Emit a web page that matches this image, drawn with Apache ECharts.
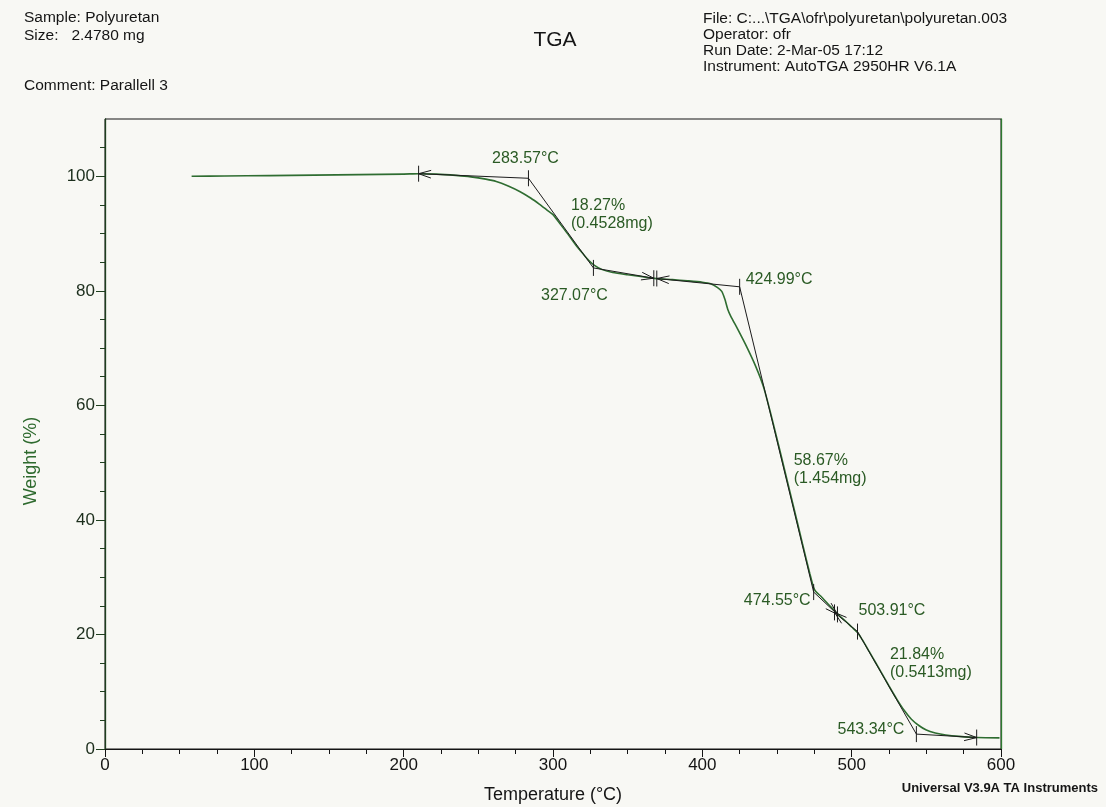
<!DOCTYPE html>
<html>
<head>
<meta charset="utf-8">
<title>TGA – Polyuretan</title>
<script src="https://cdn.jsdelivr.net/npm/echarts@6/dist/echarts.min.js"></script>
<style>
  html, body { margin: 0; padding: 0; background: #f8f8f4; }
  #main { width: 1106px; height: 807px; }
</style>
</head>
<body>
<div id="main"></div>
<script>
// Thermogravimetric curve: sample temperature (°C) and remaining weight (%)
const temperatureC = [
  58, 80, 110, 140, 170, 200, 210, 222, 235, 245, 255, 262, 270, 278, 285, 291, 296, 300,
  305, 310, 315, 320, 324, 328, 333, 340, 350, 360, 368, 380, 390, 400, 406, 410, 413, 415,
  417, 419, 423.5, 429, 435.6, 441, 447.7, 453.8, 461, 467, 472, 474.5, 476, 480, 485, 489,
  492, 496, 500, 504, 508, 512, 516, 520, 525, 530, 535, 540, 545, 550, 556, 563, 572, 584, 599
];
const weightPct = [
  100.0, 100.05, 100.12, 100.2, 100.28, 100.38, 100.45, 100.38, 100.15, 99.9, 99.5, 99.1, 98.3, 97.3, 96.2, 95.1, 94.1, 93.3,
  91.6, 89.9, 88.1, 86.5, 85.3, 84.4, 83.7, 83.2, 82.8, 82.45, 82.18, 81.95, 81.75, 81.5, 81.2, 80.6, 79.9, 78.6,
  76.8, 75.6, 73.4, 70.6, 66.9, 63.2, 56.6, 50.1, 42.4, 35.9, 30.6, 28.2, 27.5, 26.5, 25.1, 24.0,
  23.2, 22.3, 21.3, 20.3, 18.7, 16.9, 15.1, 13.3, 11.0, 8.8, 6.8, 5.2, 4.1, 3.3, 2.8, 2.45, 2.2, 2.0, 1.95
];

// Step analysis: limits, extrapolated onset / endset and weight change per step
const stepLeftT   = [210, 369.5, 488.5];
const stepLeftW   = [100.45, 82.15, 23.85];
const stepOnsetT  = [283.57, 424.99, 503.91];
const stepOnsetW  = [99.65, 80.7, 20.5];
const stepEndT    = [327.07, 474.55, 543.34];
const stepEndW    = [84.0, 27.4, 2.6];
const stepRightT  = [367.5, 490.5, 583.7];
const stepRightW  = [82.2, 23.5, 2.0];
const stepLossPct = [18.27, 58.67, 21.84];
const stepLossMg  = [0.4528, 1.454, 0.5413];

// Axis tick labels
const xTickLabels = [0, 100, 200, 300, 400, 500, 600];
const yTickLabels = [0, 20, 40, 60, 80, 100];
const yMinorTicks = [];
for (let v = 5; v <= 105; v += 5) if (v % 20 !== 0) yMinorTicks.push(v);

// Placement of the step annotations relative to their anchor points (pixels)
const labelLayout = [
  { onset: [-3, -20, 'center'], end: [-19, 28, 'center'], loss: [10, -8] },
  { onset: [6, -7, 'left'],     end: [-3, 9, 'right'],    loss: [17, 30] },
  { onset: [1, -21, 'left'],    end: [-12, -5, 'right'],  loss: [3, -19] }
];

const FONT = '"Liberation Sans", Arial, Helvetica, sans-serif';
const INK = '#1c1c1c';
const CURVE = '#2f6d31';
const NOTE = '#2a5a24';

const chart = echarts.init(document.getElementById('main'), null, { renderer: 'canvas' });

function renderStep(params, api) {
  const i = params.dataIndex;
  const P = (t, w) => api.coord([t, w]);
  const L = P(stepLeftT[i], stepLeftW[i]);
  const O = P(stepOnsetT[i], stepOnsetW[i]);
  const E = P(stepEndT[i], stepEndW[i]);
  const R = P(stepRightT[i], stepRightW[i]);
  const ink = { stroke: INK, lineWidth: 1, fill: null };
  const seg = (a, b) => ({ type: 'line', shape: { x1: a[0], y1: a[1], x2: b[0], y2: b[1] }, style: ink });
  const tick = (p, h) => seg([p[0], p[1] - h], [p[0], p[1] + h]);
  const arrow = (from, tip) => {
    const ang = Math.atan2(tip[1] - from[1], tip[0] - from[0]);
    const len = 13, spread = 0.3;
    return {
      type: 'polyline',
      shape: { points: [
        [tip[0] - len * Math.cos(ang - spread), tip[1] - len * Math.sin(ang - spread)],
        [tip[0], tip[1]],
        [tip[0] - len * Math.cos(ang + spread), tip[1] - len * Math.sin(ang + spread)]
      ] },
      style: ink
    };
  };
  const lay = labelLayout[i];
  const txt = (x, y, text, align) => ({
    type: 'text', x: x, y: y,
    style: { text: text, fill: NOTE, fontSize: 16, fontFamily: FONT, align: align, verticalAlign: 'middle', lineHeight: 18 }
  });
  const mid = [(O[0] + E[0]) / 2, (O[1] + E[1]) / 2];
  return {
    type: 'group',
    children: [
      seg(L, O), seg(O, E), seg(E, R),
      tick(L, 8), tick(O, 8), tick(E, 8), tick(R, 8),
      arrow(O, L), arrow(E, R),
      txt(O[0] + lay.onset[0], O[1] + lay.onset[1], stepOnsetT[i].toFixed(2) + '°C', lay.onset[2]),
      txt(E[0] + lay.end[0], E[1] + lay.end[1], stepEndT[i].toFixed(2) + '°C', lay.end[2]),
      txt(mid[0] + lay.loss[0], mid[1] + lay.loss[1],
          stepLossPct[i].toFixed(2) + '%\n(' + stepLossMg[i].toPrecision(4) + 'mg)', 'left')
    ]
  };
}

const headerText = (x, y, text, extra) => ({
  type: 'text', x: x, y: y,
  style: Object.assign({ text: text, fill: '#151515', fontSize: 15.5, fontFamily: FONT, verticalAlign: 'middle' }, extra || {})
});

const option = {
  backgroundColor: '#f8f8f4',
  animation: false,
  grid: { left: 105, right: 105, top: 119, bottom: 58, show: true, borderColor: '#141414', borderWidth: 1, backgroundColor: 'transparent' },
  xAxis: {
    type: 'value', min: 0, max: 600, interval: 100,
    axisLine: { show: true, lineStyle: { color: '#141414', width: 1.2 } },
    axisTick: { show: true, inside: false, length: 8, lineStyle: { color: '#141414' } },
    minorTick: { show: true, splitNumber: 4, length: 5, lineStyle: { color: '#141414' } },
    splitLine: { show: false },
    axisLabel: { show: true, customValues: xTickLabels, color: '#141414', fontSize: 17, fontFamily: FONT, margin: 8 }
  },
  yAxis: [
    {
      type: 'value', min: 0, max: 110, position: 'left',
      axisLine: { show: true, lineStyle: { color: '#1f3f1f', width: 1.3 } },
      axisTick: { show: true, inside: false, length: 9, customValues: yTickLabels, lineStyle: { color: '#1f3f1f' } },
      splitLine: { show: false },
      axisLabel: { show: true, customValues: yTickLabels, color: '#1c2e1c', fontSize: 17, fontFamily: FONT, margin: 10 }
    },
    {
      type: 'value', min: 0, max: 110, position: 'left',
      axisLine: { show: false },
      axisTick: { show: true, inside: false, length: 5, customValues: yMinorTicks, lineStyle: { color: '#1f3f1f' } },
      splitLine: { show: false },
      axisLabel: { show: false }
    },
    {
      type: 'value', min: 0, max: 110, position: 'right',
      axisLine: { show: true, lineStyle: { color: '#2e7a30', width: 1.3 } },
      axisTick: { show: false }, splitLine: { show: false }, axisLabel: { show: false }
    }
  ],
  graphic: [
    headerText(24, 18, 'Sample: Polyuretan'),
    headerText(24, 36, 'Size:   2.4780 mg'),
    headerText(24, 86, 'Comment: Parallell 3'),
    headerText(555, 40, 'TGA', { fontSize: 21, align: 'center' }),
    headerText(703, 19, 'File: C:...\\TGA\\ofr\\polyuretan\\polyuretan.003'),
    headerText(703, 35, 'Operator: ofr'),
    headerText(703, 51, 'Run Date: 2-Mar-05 17:12'),
    headerText(703, 67, 'Instrument: AutoTGA 2950HR V6.1A'),
    headerText(1098, 788, 'Universal V3.9A TA Instruments',
      { fontSize: 13, fontWeight: 'bold', align: 'right', fontFamily: '"Liberation Sans Narrow", "Liberation Sans", Arial, sans-serif' }),
    headerText(553, 795, 'Temperature (°C)', { fontSize: 18, align: 'center' }),
    {
      type: 'text', x: 31, y: 461, rotation: Math.PI / 2,
      style: { text: 'Weight (%)', fill: '#2e6a2e', fontSize: 18, fontFamily: FONT, align: 'center', verticalAlign: 'middle' }
    }
  ],
  series: [
    {
      name: 'Weight',
      type: 'line',
      xAxisIndex: 0, yAxisIndex: 0,
      data: temperatureC.map((t, i) => [t, weightPct[i]]),
      showSymbol: false,
      smooth: 0.25,
      lineStyle: { color: CURVE, width: 1.6 },
      z: 2
    },
    {
      name: 'Steps',
      type: 'custom',
      xAxisIndex: 0, yAxisIndex: 0,
      clip: false,
      data: stepOnsetT.map((t, i) => [t, stepOnsetW[i]]),
      encode: { x: 0, y: 1 },
      renderItem: renderStep,
      z: 3
    }
  ]
};

chart.setOption(option);
</script>
</body>
</html>
